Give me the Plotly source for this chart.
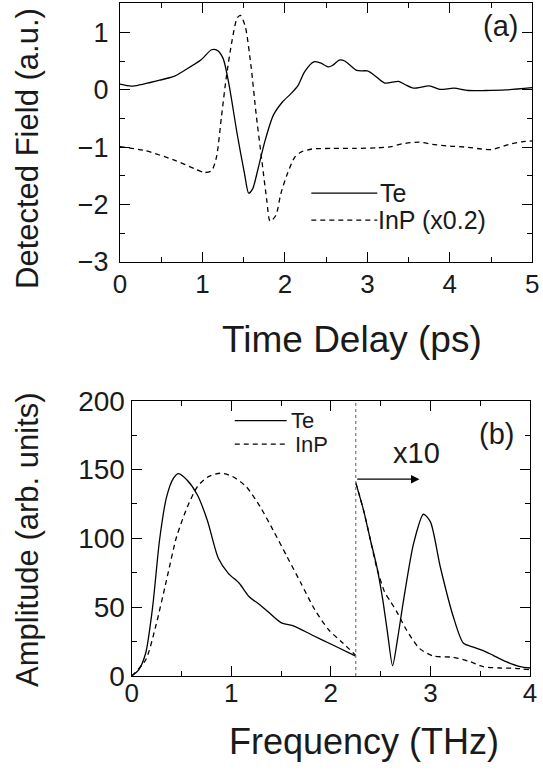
import plotly.graph_objects as go

# ---- panel (a): time-domain fields ----
te_time = [0, 0.14, 0.48, 0.645, 0.77, 0.98, 1.11, 1.18, 1.25, 1.32, 1.42, 1.51, 1.56, 1.61, 1.67,
           1.76, 1.86, 1.97, 2.07, 2.16, 2.24, 2.35, 2.43, 2.53, 2.58, 2.66, 2.73, 2.87, 3.00, 3.08,
           3.21, 3.38, 3.46, 3.56, 3.75, 3.88, 4.05, 4.22, 4.43, 4.68, 5.0]
te_field = [0.10, 0.065, 0.17, 0.23, 0.33, 0.52, 0.70, 0.69, 0.55, 0.11, -0.76, -1.46, -1.80, -1.72, -1.40,
            -0.88, -0.44, -0.21, -0.07, 0.08, 0.32, 0.49, 0.47, 0.40, 0.43, 0.52, 0.50, 0.34, 0.33, 0.26,
            0.12, 0.15, 0.09, 0.03, 0.07, 0.01, 0.03, -0.01, -0.01, 0.0, 0.04]

inp_time = [0, 0.31, 0.65, 0.90, 1.02, 1.11, 1.17, 1.23, 1.29, 1.36, 1.42, 1.46, 1.52, 1.59, 1.65,
            1.72, 1.78, 1.82, 1.89, 1.95, 2.03, 2.12, 2.20, 2.33, 2.58, 2.83, 3.12, 3.29, 3.42, 3.63,
            3.79, 4.0, 4.22, 4.38, 4.51, 4.72, 4.89, 5.0]
inp_field = [-0.99, -1.06, -1.22, -1.37, -1.44, -1.41, -1.17, -0.47, 0.23, 0.87, 1.25, 1.30, 1.10, 0.40, -0.41,
             -1.23, -1.92, -2.29, -2.19, -1.81, -1.46, -1.17, -1.08, -1.03, -1.02, -1.02, -1.01, -0.99, -0.94, -0.91,
             -0.95, -0.98, -1.0, -1.03, -1.04, -0.95, -0.90, -0.89]

# ---- panel (b): spectra ----
te_freq_low = [0, 0.07, 0.14, 0.21, 0.28, 0.35, 0.42, 0.47, 0.56, 0.66, 0.76, 0.87, 0.97, 1.08, 1.18,
               1.29, 1.37, 1.50, 1.63, 1.81, 2.02, 2.25]
te_amp_low = [0, 4.4, 16.5, 50, 99, 130, 143.7, 147, 142, 131.5, 113, 85.5, 74.6, 67.4, 57.6,
              51.6, 46.7, 38.8, 36.3, 29.8, 22.5, 14.5]
inp_freq_low = [0, 0.14, 0.24, 0.35, 0.45, 0.56, 0.66, 0.76, 0.89, 1.01, 1.15, 1.29, 1.42, 1.56, 1.70,
                1.84, 1.98, 2.12, 2.25]
inp_amp_low = [0, 11.6, 35.8, 69.8, 101, 123, 137.6, 144.4, 147.3, 145, 137.6, 123, 106, 86.7, 67.4,
               48, 33.4, 24, 15]

te_freq_high = [2.25, 2.33, 2.40, 2.46, 2.52, 2.57, 2.62, 2.67, 2.73, 2.83, 2.93, 3.00, 3.10, 3.23, 3.33,
                3.43, 3.53, 3.63, 3.76, 3.90, 4.0]
te_amp_high = [140.5, 120, 98, 80, 56, 31, 7.5, 27, 55, 96, 117.5, 112, 79, 43, 24,
               21, 18.5, 15, 10.4, 6.8, 5.8]
inp_freq_high = [2.25, 2.33, 2.40, 2.46, 2.54, 2.60, 2.66, 2.76, 2.89, 3.03, 3.23, 3.40, 3.53, 3.70, 3.85, 4.0]
inp_amp_high = [140.5, 120, 98, 79, 61, 54, 47, 33.4, 20, 14.5, 13.6, 10.4, 6.8, 5.8, 5.6, 4.5]

split_freq = 2.25
time_ticks = [0, 1, 2, 3, 4, 5]
field_ticks = [-3, -2, -1, 0, 1]
freq_ticks = [0, 1, 2, 3, 4]
amp_ticks = [0, 50, 100, 150, 200]

W, H = 543, 772
FONT = "Liberation Sans, Arial, sans-serif"
TXT = "#1a1a1a"

solid = dict(color="black", width=1.3)
dashed = dict(color="black", width=1.3, dash="5px,4px")

fig = go.Figure()
fig.add_trace(go.Scatter(x=te_time, y=te_field, mode="lines", line=dict(**solid, shape="spline", smoothing=0.7),
                         xaxis="x", yaxis="y", showlegend=False))
fig.add_trace(go.Scatter(x=inp_time, y=inp_field, mode="lines", line=dict(**dashed, shape="spline", smoothing=0.7),
                         xaxis="x", yaxis="y", showlegend=False))
for fx, fy, ln in [(te_freq_low, te_amp_low, solid), (inp_freq_low, inp_amp_low, dashed),
                   (te_freq_high, te_amp_high, solid), (inp_freq_high, inp_amp_high, dashed)]:
    fig.add_trace(go.Scatter(x=fx, y=fy, mode="lines", line=dict(**ln, shape="spline", smoothing=0.7),
                             xaxis="x2", yaxis="y2", showlegend=False))


def px_x(p):
    return p / W


def px_y(p):
    return 1 - p / H


minor_common = dict(ticks="inside", ticklen=5, tickcolor="black", tickwidth=1.2)
axis_common = dict(showline=True, linecolor="black", linewidth=1.3, mirror="allticks",
                   ticks="inside", ticklen=10, tickwidth=1.2, tickcolor="black",
                   showgrid=False, zeroline=False, automargin=False)

fig.update_layout(
    template="none",
    width=W, height=H, margin=dict(l=0, r=0, t=0, b=0, pad=0),
    paper_bgcolor="white", plot_bgcolor="white",
    xaxis=dict(**axis_common, domain=[px_x(120), px_x(532.3)], range=[0, 5], tickvals=time_ticks,
               minor=dict(dtick=0.5, **minor_common), anchor="y", ticklabelstandoff=-1,
               tickfont=dict(family=FONT, size=26, color=TXT)),
    yaxis=dict(**axis_common, domain=[px_y(262), px_y(3.3)], range=[-3, 1.51], tickvals=field_ticks,
               minor=dict(dtick=0.5, **minor_common), anchor="x", ticklabelstandoff=5,
               tickfont=dict(family=FONT, size=27, color=TXT)),
    xaxis2=dict(**axis_common, domain=[px_x(131.7), px_x(530)], range=[0, 4], tickvals=freq_ticks,
                minor=dict(dtick=0.5, **minor_common), anchor="y2", ticklabelstandoff=-6,
                tickfont=dict(family=FONT, size=26, color=TXT)),
    yaxis2=dict(**axis_common, domain=[px_y(676), px_y(400.7)], range=[0, 200], tickvals=amp_ticks,
                minor=dict(dtick=25, **minor_common), anchor="x2", ticklabelstandoff=0,
                tickfont=dict(family=FONT, size=28, color=TXT)),
)

shapes = []
annotations = []

# dotted separator in (b)
shapes.append(dict(type="line", xref="x2", yref="y2", x0=split_freq, x1=split_freq, y0=0, y1=200,
                   line=dict(color="#777", width=1.2, dash="dot")))

# legend (a)
shapes.append(dict(type="line", xref="x", yref="y", x0=2.32, x1=3.12, y0=-1.80, y1=-1.80, line=solid))
shapes.append(dict(type="line", xref="x", yref="y", x0=2.32, x1=3.12, y0=-2.27, y1=-2.27, line=dashed))
annotations.append(dict(xref="x", yref="y", x=3.13, y=-1.80, text="Te", showarrow=False, xanchor="left",
                        yanchor="middle", font=dict(family=FONT, size=25, color=TXT)))
annotations.append(dict(xref="x", yref="y", x=3.11, y=-2.27, text="InP (x0.2)", showarrow=False, xanchor="left",
                        yanchor="middle", font=dict(family=FONT, size=25, color=TXT)))

# legend (b)
shapes.append(dict(type="line", xref="x2", yref="y2", x0=1.035, x1=1.557, y0=185.5, y1=185.5, line=solid))
shapes.append(dict(type="line", xref="x2", yref="y2", x0=1.035, x1=1.557, y0=168.4, y1=168.4, line=dashed))
annotations.append(dict(xref="x2", yref="y2", x=1.575, y=185.5, text="Te", showarrow=False, xanchor="left",
                        yanchor="middle", font=dict(family=FONT, size=22, color=TXT)))
annotations.append(dict(xref="x2", yref="y2", x=1.62, y=168.4, text="InP", showarrow=False, xanchor="left",
                        yanchor="middle", font=dict(family=FONT, size=22, color=TXT)))

# panel labels
annotations.append(dict(xref="x", yref="y", x=4.62, y=1.11, text="(a)", showarrow=False,
                        xanchor="center", yanchor="middle", font=dict(family=FONT, size=29, color=TXT)))
annotations.append(dict(xref="x2", yref="y2", x=3.66, y=176, text="(b)", showarrow=False,
                        xanchor="center", yanchor="middle", font=dict(family=FONT, size=29, color=TXT)))
annotations.append(dict(xref="x2", yref="y2", x=2.86, y=162, text="x10", showarrow=False,
                        xanchor="center", yanchor="middle", font=dict(family=FONT, size=29, color=TXT)))
# arrow
annotations.append(dict(xref="x2", yref="y2", axref="x2", ayref="y2", x=2.89, y=143, ax=2.25, ay=143,
                        text="", showarrow=True, arrowhead=2, arrowsize=1.3, arrowwidth=1.3, arrowcolor="black"))

# axis titles
annotations.append(dict(xref="paper", yref="paper", x=px_x(351.7), y=px_y(339), text="Time Delay (ps)",
                        xanchor="center", yanchor="middle",
                        showarrow=False, font=dict(family=FONT, size=37, color=TXT)))
annotations.append(dict(xref="paper", yref="paper", x=px_x(364), y=px_y(741), text="Frequency (THz)",
                        xanchor="center", yanchor="middle",
                        showarrow=False, font=dict(family=FONT, size=36, color=TXT)))
annotations.append(dict(xref="paper", yref="paper", x=px_x(27), y=px_y(149), text="Detected Field (a.u.)",
                        xanchor="center", yanchor="middle",
                        showarrow=False, textangle=-90, font=dict(family=FONT, size=31, color=TXT)))
annotations.append(dict(xref="paper", yref="paper", x=px_x(27), y=px_y(540), text="Amplitude (arb. units)",
                        xanchor="center", yanchor="middle",
                        showarrow=False, textangle=-90, font=dict(family=FONT, size=31, color=TXT)))

fig.update_layout(shapes=shapes, annotations=annotations)
fig.write_html("out.html")
